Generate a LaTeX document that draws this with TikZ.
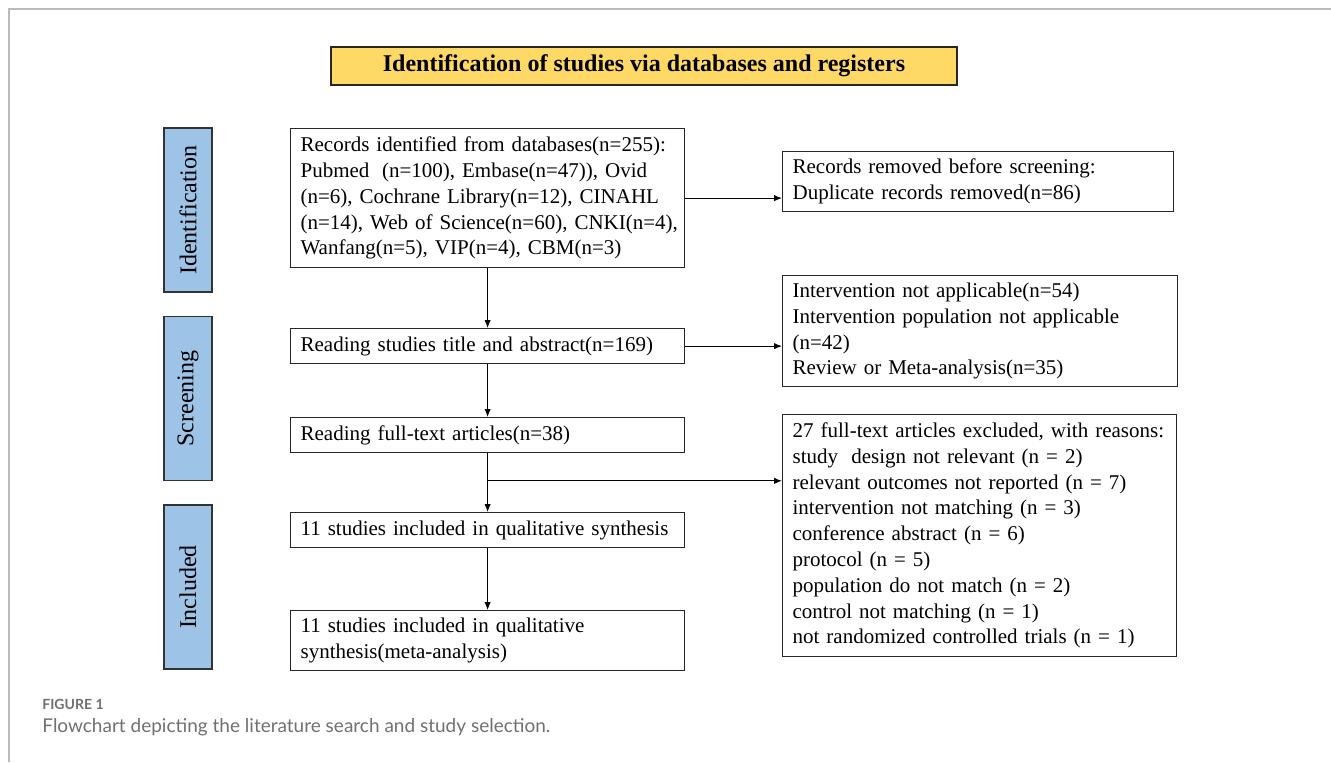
\documentclass[tikz,border=0pt]{standalone}
\usepackage{fontspec}
\setmainfont{Liberation Serif}
\newfontfamily\capfont{Lato}
\usetikzlibrary{arrows.meta, positioning, calc}
\definecolor{headyellow}{HTML}{FFD966}
\definecolor{phaseblue}{HTML}{9DC3E6}
\definecolor{framegray}{HTML}{BBBBBB}
\definecolor{capgray}{HTML}{707070}

\begin{document}
\begin{tikzpicture}[
    x=0.5pt, y=-0.5pt,
    box/.style={draw=black!85, line width=0.6pt, anchor=north west, align=left,
        inner xsep=5pt, inner ysep=1pt, font=\fontsize{10.5}{12.9}\selectfont},
    phase/.style={draw=black!80, line width=0.6pt, fill=phaseblue, rotate=90,
        minimum width=82pt, minimum height=24pt, font=\fontsize{12}{14}\selectfont},
    arr/.style={-{Latex[length=4pt, width=3.2pt]}, line width=0.5pt, black},
]
\useasboundingbox (0,0) rectangle (1331,762);

% === FRAME ===
\draw[framegray, line width=0.6pt] (1331,9) -- (9,9) -- (9,762);

% === HEADER ===
\node[draw=black!85, line width=0.6pt, fill=headyellow, minimum width=313pt,
      minimum height=19pt, font=\fontsize{12}{14}\selectfont\bfseries] (head) at (644,66)
      {Identification of studies via databases and registers};

% === PHASE LABELS ===
\foreach \y/\name/\txt in {210/ident/Identification, 398.5/screen/Screening, 587/incl/Included}{
    \node[phase] (\name) at (188,\y) {\txt};
}

% === MAIN COLUMN ===
\node[box, text width=187pt, minimum height=69.5pt] (rec) at (290,128)
    {Records identified from databases(n=255):\\
     Pubmed\hspace{0.6em}(n=100), Embase(n=47)), Ovid\\
     (n=6), Cochrane Library(n=12), CINAHL\\
     \mbox{(n=14), Web of Science(n=60), CNKI(n=4),}\\
     Wanfang(n=5), VIP(n=4), CBM(n=3)};
\node[box, text width=187pt, minimum height=17.5pt] (tit) at (290,328)
    {Reading studies title and abstract(n=169)};
\node[box, text width=187pt, minimum height=17.5pt] (ft) at (290,417)
    {Reading full-text articles(n=38)};
\node[box, text width=187pt, minimum height=17.5pt] (inc1) at (290,512)
    {11 studies included in qualitative synthesis};
\node[box, text width=187pt, minimum height=30pt] (inc2) at (290,610)
    {11 studies included in qualitative\\synthesis(meta-analysis)};

% === EXCLUSION COLUMN ===
\node[box, text width=185.5pt, minimum height=30pt] (rem) at (782,151)
    {Records removed before screening:\\Duplicate records removed(n=86)};
\node[box, text width=187.5pt, minimum height=55.5pt] (ex1) at (782,275)
    {Intervention not applicable(n=54)\\
     Intervention population not applicable\\
     (n=42)\\
     Review or Meta-analysis(n=35)};
\node[box, text width=187pt, minimum height=121pt] (ex2) at (782,414)
    {27 full-text articles excluded, with reasons:\\
     study\hspace{0.3em} design not relevant (n = 2)\\
     relevant outcomes not reported (n = 7)\\
     intervention not matching (n = 3)\\
     conference abstract (n = 6)\\
     protocol (n = 5)\\
     population do not match (n = 2)\\
     control not matching (n = 1)\\
     not randomized controlled trials (n = 1)};

% === ARROWS ===
\draw[arr] (rec.south) -- (tit.north);
\draw[arr] (tit.south) -- (ft.north);
\draw[arr] (ft.south) -- (inc1.north);
\draw[arr] (inc1.south) -- (inc2.north);
\draw[arr] (rec.east) -- (rec.east -| rem.west);
\draw[arr] (tit.east) -- (tit.east -| ex1.west);
\coordinate (br) at ($(ft.south)!0.47!(inc1.north)$);
\draw[arr] (br) -- (br -| ex2.west);

% === CAPTION ===
\node[anchor=base west, inner sep=0pt, text=capgray, font=\capfont\fontsize{7}{8}\selectfont\bfseries] (figno) at (42,709) {FIGURE 1};
\node[anchor=base west, inner sep=0pt, text=capgray, font=\capfont\fontsize{9.5}{11}\selectfont] (cap) at (42,732)
    {Flowchart depicting the literature search and study selection.};

\end{tikzpicture}
\end{document}
